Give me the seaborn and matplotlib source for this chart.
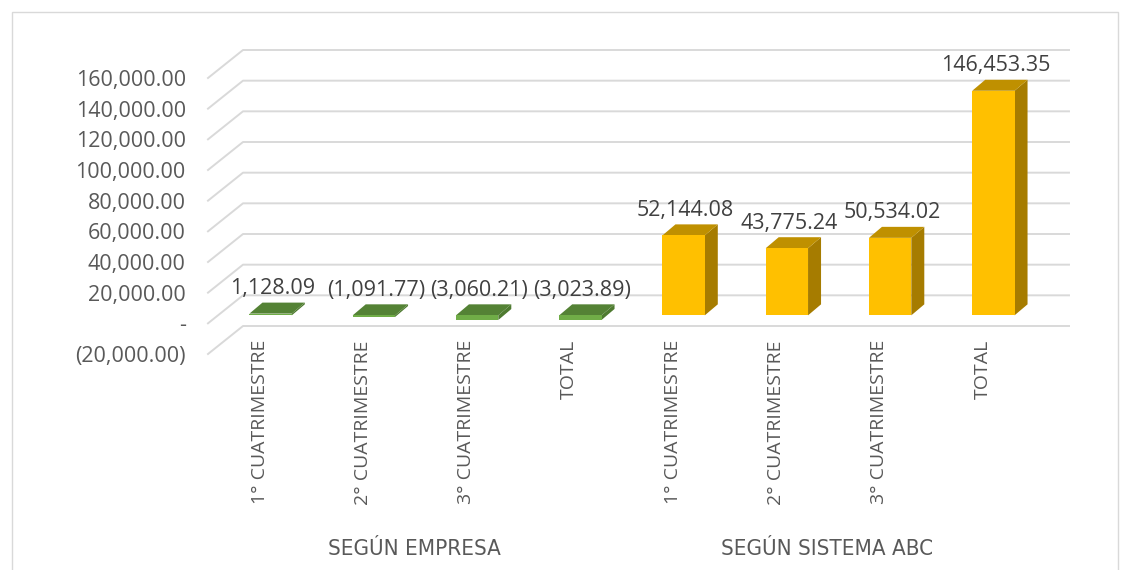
import matplotlib
matplotlib.use("Agg")
import matplotlib.pyplot as plt
import matplotlib.transforms as mtransforms
from matplotlib.patches import Polygon, Rectangle
import numpy as np
import pandas as pd
import seaborn as sns

# Datos del grafico
CATEGORIAS = ["1° CUATRIMESTRE", "2° CUATRIMESTRE", "3° CUATRIMESTRE", "TOTAL"]
GRUPOS = ["SEGÚN EMPRESA", "SEGÚN SISTEMA ABC"]
EMPRESA = [1128.09, -1091.77, -3060.21, -3023.89]
SISTEMA_ABC = [52144.08, 43775.24, 50534.02, 146453.35]
Y_TICKS = [-20000, 0, 20000, 40000, 60000, 80000, 100000, 120000, 140000, 160000]

FRENTE = {"SEGÚN EMPRESA": "#70AD47", "SEGÚN SISTEMA ABC": "#FFC000"}
LADO = {"SEGÚN EMPRESA": "#4E7A30", "SEGÚN SISTEMA ABC": "#A67C00"}
TAPA = {"SEGÚN EMPRESA": "#548235", "SEGÚN SISTEMA ABC": "#BF9000"}

GRIS_TXT = "#595959"
GRIS_GRID = "#D9D9D9"

df = pd.DataFrame({
    "clave": [f"{g}|{c}" for g in GRUPOS for c in CATEGORIAS],
    "etiqueta": CATEGORIAS * 2,
    "grupo": [g for g in GRUPOS for _ in CATEGORIAS],
    "valor": EMPRESA + SISTEMA_ABC,
})


def fmt_num(v):
    if v == 0:
        return "-"
    s = f"{abs(v):,.2f}"
    return f"({s})" if v < 0 else s


plt.rcParams["font.family"] = ["Open Sans", "DejaVu Sans"]

W, H, DPI = 1128, 570, 100
fig = plt.figure(figsize=(W / DPI, H / DPI), dpi=DPI)
ax = fig.add_axes([208 / W, (H - 354) / H, 826 / W, 276 / H])
ax.set_xlim(-0.5, 7.5)
ax.set_ylim(-20000, 160000)

# profundidad en pixeles (pared del fondo y caras de las barras)
WALL = (35, 28)
BAR_F = (11, 8)
BAR_B = (24, 19)


def shift(x, y, d):
    px, py = ax.transData.transform((x, y))
    return ax.transData.inverted().transform((px + d[0], py + d[1]))


# rejilla: pared lateral + pared del fondo
for v in Y_TICKS:
    p0 = (-0.5, v)
    p1 = shift(-0.5, v, WALL)
    p2 = shift(7.5, v, WALL)
    ax.plot([p0[0], p1[0], p2[0]], [p0[1], p1[1], p2[1]],
            color=GRIS_GRID, lw=1.4, clip_on=False, zorder=1)

sns.barplot(data=df, x="clave", y="valor", hue="grupo", order=list(df["clave"]),
            palette=FRENTE, dodge=False, width=0.41, saturation=1,
            legend=False, ax=ax, linewidth=0, errorbar=None)

off = mtransforms.ScaledTranslation(BAR_F[0] / DPI, BAR_F[1] / DPI, fig.dpi_scale_trans)
valores = list(df["valor"])
grupos = list(df["grupo"])
for patch in list(ax.patches):
    h = patch.get_height()
    if h is None or np.isnan(h):
        continue
    x0 = patch.get_x()
    x1 = x0 + patch.get_width()
    i = int(round((x0 + x1) / 2))
    g = grupos[i]
    y0, y1 = patch.get_y(), patch.get_y() + h
    lo, hi = min(y0, y1), max(y0, y1)
    patch.set_transform(ax.transData + off)
    patch.set_zorder(4)
    patch.set_clip_on(False)
    lado = [shift(x1, lo, BAR_F), shift(x1, hi, BAR_F), shift(x1, hi, BAR_B), shift(x1, lo, BAR_B)]
    tapa = [shift(x0, hi, BAR_F), shift(x1, hi, BAR_F), shift(x1, hi, BAR_B), shift(x0, hi, BAR_B)]
    ax.add_patch(Polygon(lado, closed=True, facecolor=LADO[g], edgecolor="none", zorder=3, clip_on=False))
    ax.add_patch(Polygon(tapa, closed=True, facecolor=TAPA[g], edgecolor="none", zorder=3, clip_on=False))

    v = valores[i]
    ax.annotate(fmt_num(v), ((x0 + x1) / 2, max(v, 0)),
                xytext=((BAR_F[0] + 2) * 0.72, (BAR_F[1] + 25) * 0.72),
                textcoords="offset points", ha="center", va="center",
                fontsize=15.5, color="#404040", zorder=5)

# ejes
ax.set_yticks(Y_TICKS)
ax.set_yticklabels([fmt_num(v) for v in Y_TICKS], fontsize=15.5, color=GRIS_TXT)
ax.set_xticks(range(len(df)))
ax.set_xticklabels(df["etiqueta"], rotation=90, va="top", ha="center",
                   fontsize=14, color=GRIS_TXT)
ax.tick_params(axis="y", length=0, pad=16)
ax.tick_params(axis="x", length=0, pad=-10)
ax.set_xlabel("")
ax.set_ylabel("")
for s in ax.spines.values():
    s.set_visible(False)
ax.set_facecolor("none")

# etiquetas de grupo
trans = mtransforms.blended_transform_factory(ax.transData, fig.transFigure)
for k, g in enumerate(GRUPOS):
    ax.text(1.5 + 4 * k, (H - 549) / H, g, transform=trans, ha="center", va="center",
            fontsize=16, color=GRIS_TXT, family="DejaVu Sans", fontstretch="condensed")

# marco del grafico
fig.patches.append(Rectangle((12 / W, -0.1), (1118 - 12) / W, (H - 12) / H + 0.1,
                             transform=fig.transFigure, fill=False,
                             edgecolor=GRIS_GRID, lw=1))

fig.savefig("out.png", dpi=DPI)
